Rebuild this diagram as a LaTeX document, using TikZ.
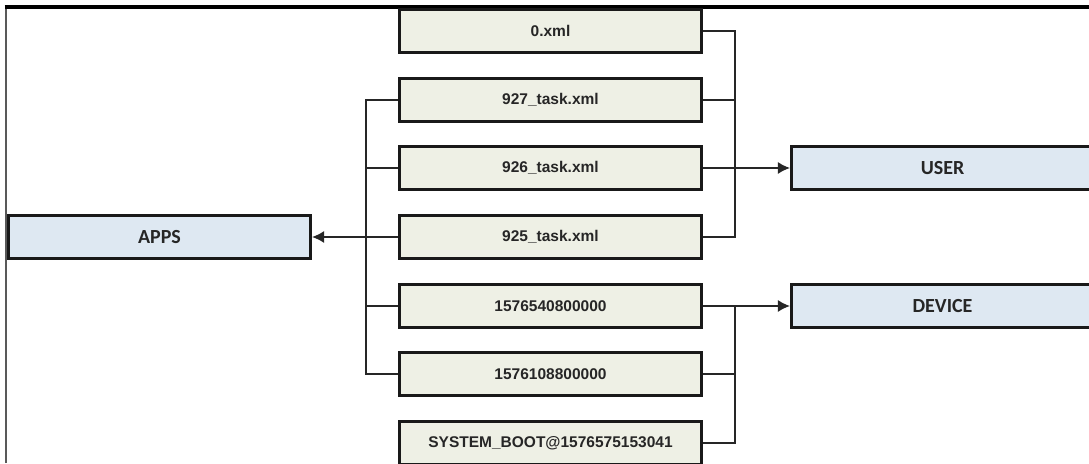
\documentclass[tikz,border=0pt]{standalone}
\usepackage{fontspec}
\setmainfont{Liberation Sans}
\newfontfamily\groupfont{Carlito}
\usetikzlibrary{arrows.meta,positioning,shadows}
\definecolor{fileFill}{RGB}{238,240,229}
\definecolor{groupFill}{RGB}{222,232,242}
\definecolor{boxStroke}{RGB}{25,25,25}
\colorlet{ink}{black!85}
\tikzset{
  arrow/.style={-{Latex[length=12pt,width=12pt]}, draw=ink, line width=1.4pt},
  wire/.style={draw=ink, line width=1.4pt},
  filebox/.style={
    rectangle,
    draw=boxStroke,
    fill=fileFill,
    line width=2.6pt,
    minimum width=302.5pt,
    minimum height=43.5pt,
    inner sep=0pt,
    drop shadow={shadow xshift=1.2pt, shadow yshift=-1.2pt, fill=black!25},
    text=ink,
    font=\fontsize{15.5}{18}\selectfont\bfseries
  },
  groupbox/.style={
    rectangle,
    draw=boxStroke,
    fill=groupFill,
    line width=2.6pt,
    minimum width=302.5pt,
    minimum height=43.5pt,
    inner sep=0pt,
    drop shadow={shadow xshift=1.2pt, shadow yshift=-1.2pt, fill=black!25},
    text=black!85,
    font=\groupfont\fontsize{20}{22}\selectfont\bfseries
  }
}

\begin{document}
\begin{tikzpicture}[x=1pt,y=1pt]
  \useasboundingbox (0,0) rectangle (1089,463);
  \clip (0,0) rectangle (1089,463);

  % page frame
  \draw[line width=2.6pt, black!65] (6,0) -- (6,456);
  \draw[line width=3.2pt, black] (4.7,456) -- (1089,456);

  \node[groupbox] (apps) at (159.5,226) {APPS};
  \node[groupbox] (user) at (942.5,295) {USER};
  \node[groupbox] (device) at (942.5,157) {DEVICE};

  \node[filebox] (xml0) at (550.5,432) {0.xml};
  \node[filebox] (task927) at (550.5,363) {927\_task.xml};
  \node[filebox] (task926) at (550.5,295) {926\_task.xml};
  \node[filebox] (task925) at (550.5,226) {925\_task.xml};
  \node[filebox] (ts540) at (550.5,157) {1576540800000};
  \node[filebox] (ts108) at (550.5,89) {1576108800000};
  \node[filebox] (boot) at (550.5,20) {SYSTEM\_BOOT@1576575153041};

  \coordinate (appsBus) at (366,0);
  \coordinate (userBus) at (735,0);
  \coordinate (deviceBus) at (735,0);

  % left side into APPS
  \draw[wire] (task927.west) -- (task927.west -| appsBus) -- (ts108.west -| appsBus) -- (ts108.west);
  \draw[wire] (task926.west) -- (task926.west -| appsBus);
  \draw[wire] (ts540.west) -- (ts540.west -| appsBus);
  \draw[arrow] (task925.west) -- (apps.east);

  % right side into USER and DEVICE
  \draw[wire] (xml0.east) -- (xml0.east -| userBus) -- (task925.east -| userBus) -- (task925.east);
  \draw[wire] (task927.east) -- (task927.east -| userBus);
  \draw[arrow] (task926.east) -- (user.west);

  \draw[wire] (ts540.east -| deviceBus) -- (boot.east -| deviceBus) -- (boot.east);
  \draw[wire] (ts108.east) -- (ts108.east -| deviceBus);
  \draw[arrow] (ts540.east) -- (device.west);
\end{tikzpicture}
\end{document}
